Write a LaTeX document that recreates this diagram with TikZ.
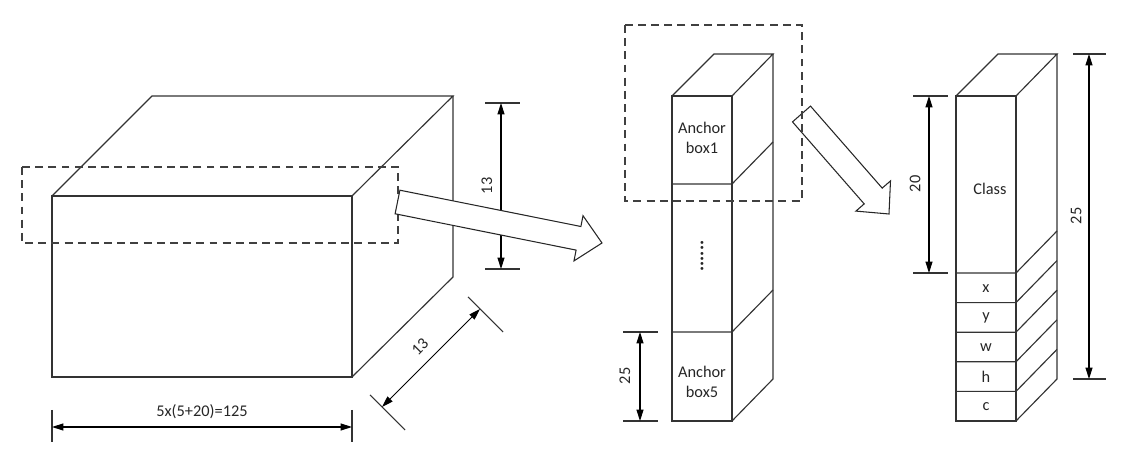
\documentclass[tikz,border=0pt]{standalone}
\usepackage{fontspec}
\setmainfont{Carlito}
\usetikzlibrary{arrows.meta}
\begin{document}
\begin{tikzpicture}[x=0.02cm,y=-0.02cm,
  edge/.style={draw=black!80, line width=0.65pt, line join=miter},
  dimline/.style={draw=black, line width=0.6pt, {Triangle[length=6.5pt,width=4pt]}-{Triangle[length=6.5pt,width=4pt]}},
  tickline/.style={draw=black!80, line width=0.6pt},
  sel/.style={draw=black!75, line width=0.8pt, dash pattern=on 4.5pt off 3pt},
  fatarrow/.style={draw=black!85, fill=white, line width=0.6pt, line join=miter},
  lbl/.style={font=\fontsize{9.3}{11.3}\selectfont, text=black!85, inner sep=0pt, align=center},
]
\useasboundingbox (0,0) rectangle (1127,452);

% ---------- big block ----------
\coordinate (bf1) at (52,196);
\coordinate (bf2) at (352,196);
\coordinate (bf3) at (352,377);
\coordinate (bf4) at (52,377);
\coordinate (bb1) at (152,96);
\coordinate (bb2) at (453,96);
\coordinate (bb3) at (453,277);
\draw[edge] (bf1) rectangle (bf3);
\draw[edge] (bf1) -- (bb1) -- (bb2) -- (bf2);
\draw[edge] (bb2) -- (bb3) -- (bf3);

% selection window on big block
\coordinate (s1a) at (22,167);
\coordinate (s1b) at (398,243);
\draw[sel] (s1a) rectangle (s1b);

% vertical dimension 13
\coordinate (v1t) at (501,103);
\coordinate (v1b) at (501,269);
\coordinate (v1tl) at (485,103);
\coordinate (v1tr) at (520,103);
\coordinate (v1bl) at (485,269);
\coordinate (v1br) at (520,269);
\draw[tickline] (v1tl) -- (v1tr);
\draw[tickline] (v1bl) -- (v1br);
\draw[dimline] (v1t) -- (v1b);
\node[lbl, rotate=90] (l13a) at (487,186) {13};

% depth dimension 13
\coordinate (p1) at (382,407);
\coordinate (p2) at (480,309);
\coordinate (p1a) at (370,395);
\coordinate (p1b) at (405,430);
\coordinate (p2a) at (468,297);
\coordinate (p2b) at (503,332);
\draw[tickline] (p1a) -- (p1b);
\draw[tickline] (p2a) -- (p2b);
\draw[dimline] (p1) -- (p2);
\node[lbl, rotate=45] (l13b) at (420,347) {13};

% width dimension
\coordinate (w1) at (52,427);
\coordinate (w2) at (352,427);
\coordinate (w1t) at (52,410);
\coordinate (w1b) at (52,442);
\coordinate (w2t) at (352,410);
\coordinate (w2b) at (352,442);
\draw[tickline] (w1t) -- (w1b);
\draw[tickline] (w2t) -- (w2b);
\draw[dimline] (w1) -- (w2);
\node[lbl] (lw) at (202,412) {5x(5+20)=125};

% big hollow arrow 1
\coordinate (a1t1) at (399.9,190.2);
\coordinate (a1s1) at (580.9,226.5);
\coordinate (a1h1) at (583.0,215.7);
\coordinate (a1tip) at (602,243);
\coordinate (a1h2) at (574.0,260.9);
\coordinate (a1s2) at (576.1,250.1);
\coordinate (a1t2) at (395.1,213.8);
\draw[fatarrow] (a1t1) -- (a1s1) -- (a1h1) -- (a1tip) -- (a1h2) -- (a1s2) -- (a1t2) -- cycle;

% ---------- middle column ----------
\coordinate (m1) at (672,96);
\coordinate (m2) at (732,96);
\coordinate (m3) at (732,421);
\coordinate (m4) at (672,421);
\coordinate (mb1) at (714,54);
\coordinate (mb2) at (773,54);
\coordinate (mb3) at (773,379);
\draw[edge] (m1) rectangle (m3);
\draw[edge] (m1) -- (mb1) -- (mb2) -- (m2);
\draw[edge] (mb2) -- (mb3) -- (m3);
\foreach \yy in {184,332} {
  \draw[edge] (672,\yy) -- (732,\yy) -- (773,\yy-42);
}
\node[lbl] (ab1) at (702,138) {Anchor\\box1};
\node[lbl, rotate=90, font=\fontsize{11}{13}\bfseries] (dots) at (702,256) {......};
\node[lbl] (ab5) at (702,382) {Anchor\\box5};

% dimension 25 (middle)
\coordinate (m25t) at (640,332);
\coordinate (m25b) at (640,421);
\draw[tickline] (623,332) -- (658,332);
\draw[tickline] (623,421) -- (658,421);
\draw[dimline] (m25t) -- (m25b);
\node[lbl, rotate=90] (l25a) at (625,376) {25};

% big hollow arrow 2
\coordinate (a2t1) at (810.5,106.1);
\coordinate (a2s1) at (882.2,188.1);
\coordinate (a2h1) at (890.5,180.9);
\coordinate (a2tip) at (889,214);
\coordinate (a2h2) at (855.9,211.1);
\coordinate (a2s2) at (864.2,203.9);
\coordinate (a2t2) at (792.5,121.9);
\draw[fatarrow] (a2t1) -- (a2s1) -- (a2h1) -- (a2tip) -- (a2h2) -- (a2s2) -- (a2t2) -- cycle;

% selection window on middle column
\coordinate (s2a) at (625,25);
\coordinate (s2b) at (802,201);
\draw[sel] (s2a) rectangle (s2b);

% ---------- right column ----------
\coordinate (r1) at (956,96);
\coordinate (r2) at (1016,96);
\coordinate (r3) at (1016,421);
\coordinate (r4) at (956,421);
\coordinate (rb1) at (998,54);
\coordinate (rb2) at (1057,54);
\coordinate (rb3) at (1057,379);
\draw[edge] (r1) rectangle (r3);
\draw[edge] (r1) -- (rb1) -- (rb2) -- (r2);
\draw[edge] (rb2) -- (rb3) -- (r3);
\foreach \yy in {273,302.6,332.2,361.8,391.4} {
  \draw[edge] (956,\yy) -- (1016,\yy) -- (1057,\yy-42);
}
\node[lbl] (cls) at (990,189) {Class};
\node[lbl] (cx) at (986,289) {x};
\node[lbl] (cy) at (986,318) {y};
\node[lbl] (cw) at (986,348) {w};
\node[lbl] (ch) at (986,377) {h};
\node[lbl] (cc) at (986,407) {c};

% dimension 20
\coordinate (d20t) at (929,96);
\coordinate (d20b) at (929,273);
\draw[tickline] (913,96) -- (948,96);
\draw[tickline] (913,273) -- (948,273);
\draw[dimline] (d20t) -- (d20b);
\node[lbl, rotate=90] (l20) at (915,184) {20};

% dimension 25 (right)
\coordinate (d25t) at (1089,54);
\coordinate (d25b) at (1089,379);
\draw[tickline] (1073,54) -- (1106,54);
\draw[tickline] (1073,379) -- (1106,379);
\draw[dimline] (d25t) -- (d25b);
\node[lbl, rotate=90] (l25b) at (1076,216) {25};
\end{tikzpicture}
\end{document}
